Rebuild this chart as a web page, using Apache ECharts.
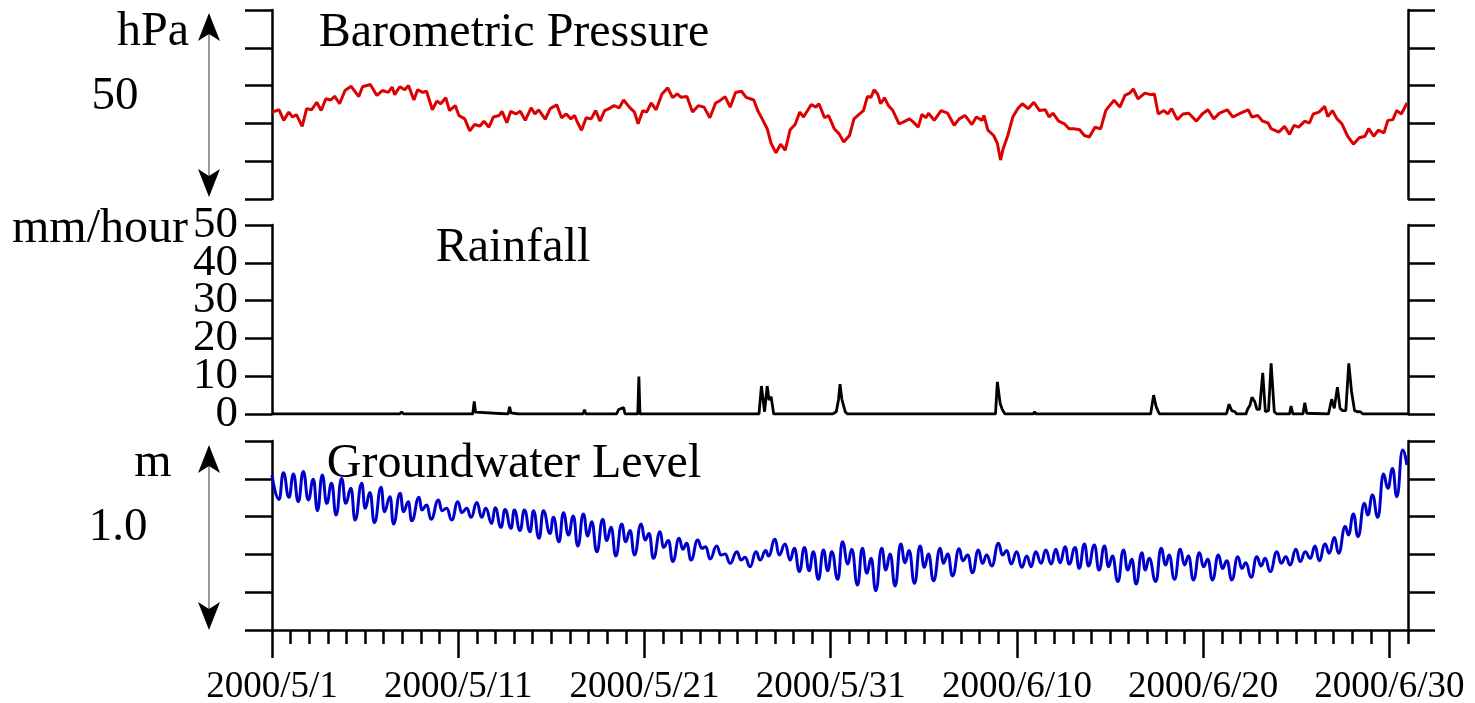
<!DOCTYPE html>
<html>
<head>
<meta charset="utf-8">
<title>Barometric Pressure / Rainfall / Groundwater Level</title>
<script src="https://cdn.jsdelivr.net/npm/echarts@6/dist/echarts.min.js"></script>
<style>
  html, body { margin: 0; padding: 0; background: #fff; }
  #main { width: 1475px; height: 703px; }
</style>
</head>
<body>
<div id="main"></div>
<script>
// x = days since 2000/5/1
var xTickDays = [0, 10, 20, 30, 40, 50, 60];
// rainfall tick labels, split in two sets so ECharts does not drop the crowded ones
var rainLabelsEven = [0, 20, 40];
var rainLabelsOdd = [10, 30, 50];
var dayTicks = [];
for (var i = 0; i <= 61; i++) dayTicks.push(i);

// barometric pressure, hPa  [day, value]
var pressure = [
  [0,1003.0],[0.38,1003.6],[0.63,1000.8],[0.90,1003.0],[1.10,1001.7],[1.31,1002.3],[1.62,999.2],[1.86,1003.9],
  [2.13,1003.6],[2.40,1005.6],[2.64,1003.4],[2.89,1006.5],[3.16,1006.2],[3.36,1007.2],[3.63,1005.2],[3.92,1008.7],
  [4.25,1009.8],[4.66,1007.1],[4.86,1009.7],[5.28,1010.3],[5.63,1007.4],[5.93,1008.7],[6.24,1008.2],[6.45,1009.6],
  [6.59,1007.6],[6.86,1009.7],[7.13,1008.9],[7.33,1010.0],[7.62,1006.2],[7.82,1008.9],[8.09,1008.2],[8.30,1008.5],
  [8.61,1003.6],[8.85,1005.9],[9.06,1005.2],[9.33,1006.8],[9.53,1003.4],[9.84,1004.7],[10.04,1002.1],[10.35,1001.2],
  [10.62,998.0],[10.87,999.7],[11.17,999.3],[11.38,1000.6],[11.65,999.0],[11.89,1001.7],[12.20,1002.1],[12.35,1003.2],
  [12.61,1000.2],[12.82,1003.2],[13.09,1002.5],[13.33,1003.2],[13.60,1000.8],[13.91,1004.1],[14.12,1002.5],[14.32,1003.6],
  [14.67,1001.1],[14.94,1003.9],[15.29,1004.9],[15.55,1001.5],[15.80,1002.5],[16.05,1001.2],[16.25,1002.1],[16.38,1000.5],
  [16.62,998.2],[16.87,1001.5],[17.14,1001.2],[17.38,1003.4],[17.61,1000.6],[17.86,1003.4],[18.10,1003.9],[18.37,1004.7],
  [18.64,1004.1],[18.88,1006.2],[19.19,1004.3],[19.46,1003.0],[19.66,999.9],[19.91,1003.4],[20.12,1003.0],[20.36,1005.4],
  [20.63,1003.6],[20.94,1007.8],[21.25,1009.4],[21.51,1006.8],[21.76,1007.8],[21.97,1006.9],[22.28,1007.1],[22.58,1003.0],
  [22.89,1004.7],[23.20,1004.3],[23.51,1001.5],[23.82,1005.4],[24.02,1005.9],[24.33,1007.1],[24.60,1004.3],[24.89,1008.2],
  [25.21,1008.5],[25.46,1006.9],[25.87,1006.2],[26.08,1003.4],[26.32,1001.2],[26.59,998.6],[26.80,994.7],[27.06,992.2],
  [27.31,994.5],[27.56,992.9],[27.82,998.3],[28.09,999.7],[28.34,1003.0],[28.54,1001.7],[28.96,1005.0],[29.20,1004.3],
  [29.37,1005.2],[29.67,1001.5],[29.88,1002.1],[30.19,998.6],[30.44,997.3],[30.70,995.1],[31.01,996.8],[31.25,1001.2],
  [31.55,1002.5],[31.76,1003.4],[31.97,1007.1],[32.17,1006.9],[32.33,1008.9],[32.52,1007.8],[32.68,1005.2],[32.89,1006.8],
  [33.10,1004.7],[33.34,1003.4],[33.67,999.9],[33.92,1000.4],[34.23,1001.2],[34.43,1000.4],[34.70,999.0],[34.90,1002.4],
  [35.11,1001.5],[35.25,1002.7],[35.56,1000.8],[35.93,1003.4],[36.28,1002.7],[36.63,999.5],[36.90,1001.2],[37.21,1002.1],
  [37.58,999.7],[37.82,1001.7],[38.13,1000.8],[38.23,1002.1],[38.44,998.2],[38.75,996.8],[38.95,994.7],[39.12,990.3],
  [39.26,993.3],[39.51,996.8],[39.78,1001.7],[40.04,1003.9],[40.29,1005.2],[40.60,1003.9],[40.91,1005.6],[41.21,1003.4],
  [41.52,1003.6],[41.73,1001.7],[41.93,1002.7],[42.24,1000.6],[42.55,999.9],[42.80,998.6],[43.06,998.6],[43.37,998.3],
  [43.62,996.8],[43.89,996.4],[44.19,999.0],[44.50,998.6],[44.77,1003.4],[44.91,1004.3],[45.22,1006.1],[45.53,1004.3],
  [45.80,1007.4],[46.05,1008.0],[46.25,1009.1],[46.50,1006.5],[46.87,1008.0],[47.18,1007.6],[47.38,1007.8],[47.59,1002.5],
  [47.89,1003.4],[48.10,1002.5],[48.31,1003.9],[48.61,1001.0],[48.92,1002.5],[49.23,1002.7],[49.64,1000.6],[49.95,1002.5],
  [50.26,1003.6],[50.57,1001.2],[50.88,1002.7],[51.29,1003.6],[51.60,1001.7],[52.01,1002.7],[52.42,1003.6],[52.62,1001.7],
  [52.93,1002.1],[53.20,1000.6],[53.49,1000.1],[53.65,998.6],[54.06,997.7],[54.37,999.2],[54.64,997.1],[54.88,999.5],
  [55.13,999.0],[55.46,1000.6],[55.71,1000.1],[55.91,1002.5],[56.22,1003.0],[56.53,1004.5],[56.69,1001.8],[56.94,1003.4],
  [57.19,1001.2],[57.45,999.9],[57.76,996.6],[58.07,994.5],[58.38,996.2],[58.69,996.6],[58.89,998.6],[59.16,996.6],
  [59.41,998.2],[59.71,997.5],[59.92,1000.8],[60.19,1001.0],[60.39,1003.4],[60.64,1002.5],[60.95,1005.4]
];

// rainfall, mm/hour  [day, value]
var rainfall = [
  [0,0],[6.85,0],[6.96,0.5],[7.08,0],
  [10.78,0],[10.86,3.3],[10.93,0.5],[11.0,0],
  [12.68,0],[12.76,1.9],[12.83,0.3],[12.9,0],
  [13.24,0],[13.29,0.5],[13.35,0],
  [16.04,0],[16.1,0.5],[16.16,0],
  [16.7,0],[16.78,1.1],[16.86,0],
  [18.5,0],[18.62,1.2],[18.72,1.7],[18.88,1.7],[18.96,0],
  [19.64,0],[19.70,9.9],[19.76,0],
  [26.15,0],[26.28,7.4],[26.45,0.6],[26.59,7.4],[26.69,3.7],[26.80,4.6],[26.94,0],
  [30.1,0],[30.3,0.6],[30.42,3.8],[30.5,7.9],[30.6,3.9],[30.78,0.6],[30.9,0],
  [38.85,0],[38.95,8.5],[39.1,2.8],[39.22,1.1],[39.36,0],
  [40.88,0],[40.95,0.6],[41.02,0],
  [41.63,0],[41.69,0.5],[41.75,0],
  [43.77,0],[43.83,0.5],[43.89,0],
  [47.18,0],[47.34,5.0],[47.48,1.9],[47.65,0],
  [51.25,0],[51.39,2.6],[51.53,0.9],[51.7,0.6],[51.8,0],
  [52.3,0],[52.38,1.2],[52.52,2.4],[52.62,4.4],[52.77,3.3],[52.89,1.2],[53.03,1.2],[53.2,10.9],[53.34,0.6],
  [53.51,0.9],[53.65,13.4],[53.82,0.6],[53.96,0],
  [54.64,0],[54.72,2.1],[54.82,0],
  [55.36,0],[55.46,3.0],[55.56,0.2],[55.64,0],
  [56.73,0],[56.9,3.9],[57.04,1.5],[57.21,7.1],[57.35,1.5],[57.49,0.9],[57.66,0.9],[57.82,13.4],[57.97,5.9],
  [58.13,0.9],[58.28,0.6],[58.44,0.6],[58.58,0],
  [61,0]
];

// groundwater level, m (relative)  [day, value]
var groundwater = [
  [0,0.820],[0.38,0.691],[0.61,0.832],[0.91,0.702],[1.15,0.825],[1.41,0.679],[1.68,0.838],[1.95,0.688],
  [2.22,0.797],[2.44,0.631],[2.70,0.820],[2.94,0.670],[3.20,0.776],[3.44,0.608],[3.74,0.802],[3.96,0.670],
  [4.24,0.750],[4.46,0.582],[4.82,0.776],[5.00,0.644],[5.26,0.727],[5.50,0.568],[5.86,0.755],[6.03,0.626],
  [6.34,0.705],[6.52,0.561],[6.88,0.723],[7.06,0.626],[7.32,0.679],[7.50,0.578],[7.90,0.702],[8.04,0.635],
  [8.31,0.661],[8.54,0.586],[8.94,0.688],[9.12,0.631],[9.38,0.644],[9.65,0.582],[9.98,0.679],[10.19,0.621],
  [10.46,0.644],[10.69,0.596],[11.00,0.674],[11.26,0.596],[11.48,0.644],[11.80,0.564],[11.98,0.647],[12.30,0.543],
  [12.51,0.638],[12.84,0.538],[13.01,0.635],[13.32,0.526],[13.55,0.635],[13.86,0.520],[14.04,0.631],[14.34,0.485],
  [14.57,0.631],[14.93,0.511],[15.11,0.596],[15.41,0.467],[15.65,0.621],[15.92,0.503],[16.18,0.603],[16.42,0.444],
  [16.72,0.614],[16.95,0.497],[17.17,0.573],[17.44,0.414],[17.76,0.586],[17.97,0.473],[18.21,0.543],[18.46,0.392],
  [18.78,0.561],[18.99,0.467],[19.23,0.526],[19.46,0.397],[19.82,0.561],[20.03,0.476],[20.25,0.511],[20.48,0.379],
  [20.84,0.520],[21.02,0.437],[21.29,0.473],[21.52,0.362],[21.86,0.485],[22.06,0.427],[22.27,0.459],[22.50,0.370],
  [22.86,0.476],[23.08,0.432],[23.29,0.441],[23.52,0.376],[23.88,0.444],[24.11,0.397],[24.33,0.402],[24.60,0.353],
  [24.96,0.414],[25.19,0.370],[25.40,0.385],[25.67,0.335],[25.99,0.414],[26.21,0.370],[26.51,0.420],[26.66,0.392],
  [27.01,0.480],[27.23,0.397],[27.55,0.455],[27.82,0.370],[28.05,0.432],[28.32,0.309],[28.59,0.437],[28.84,0.314],
  [29.07,0.414],[29.34,0.268],[29.61,0.423],[29.84,0.314],[30.06,0.414],[30.38,0.268],[30.63,0.467],[30.92,0.349],
  [31.13,0.427],[31.44,0.238],[31.70,0.432],[31.94,0.300],[32.17,0.379],[32.42,0.208],[32.74,0.432],[32.96,0.317],
  [33.19,0.402],[33.46,0.233],[33.76,0.455],[33.99,0.356],[34.21,0.420],[34.50,0.247],[34.80,0.444],[35.03,0.332],
  [35.25,0.402],[35.52,0.261],[35.88,0.432],[36.05,0.353],[36.29,0.402],[36.54,0.286],[36.90,0.430],[37.09,0.367],
  [37.36,0.397],[37.61,0.303],[37.93,0.423],[38.15,0.353],[38.38,0.397],[38.65,0.339],[39.01,0.459],[39.22,0.397],
  [39.46,0.420],[39.69,0.349],[39.99,0.414],[40.26,0.332],[40.53,0.392],[40.76,0.335],[41.01,0.414],[41.30,0.353],
  [41.55,0.423],[41.84,0.349],[42.09,0.427],[42.32,0.356],[42.59,0.441],[42.80,0.349],[43.13,0.437],[43.34,0.326],
  [43.63,0.455],[43.84,0.339],[44.16,0.450],[44.41,0.317],[44.70,0.444],[44.92,0.335],[45.13,0.392],[45.42,0.256],
  [45.72,0.423],[45.95,0.317],[46.17,0.374],[46.40,0.243],[46.71,0.409],[46.89,0.317],[47.10,0.379],[47.46,0.256],
  [47.74,0.432],[47.99,0.344],[48.17,0.397],[48.46,0.268],[48.77,0.427],[49.00,0.344],[49.21,0.392],[49.48,0.265],
  [49.80,0.409],[50.02,0.335],[50.25,0.374],[50.50,0.265],[50.82,0.397],[51.04,0.326],[51.27,0.367],[51.54,0.265],
  [51.86,0.388],[52.08,0.326],[52.29,0.356],[52.58,0.279],[52.88,0.388],[53.11,0.339],[53.33,0.379],[53.60,0.309],
  [53.96,0.414],[54.19,0.353],[54.44,0.388],[54.67,0.344],[54.98,0.427],[55.21,0.362],[55.48,0.414],[55.75,0.379],
  [56.01,0.444],[56.23,0.367],[56.55,0.455],[56.77,0.406],[57.05,0.490],[57.27,0.406],[57.63,0.547],[57.80,0.503],
  [58.07,0.614],[58.31,0.494],[58.66,0.670],[58.84,0.608],[59.09,0.714],[59.38,0.596],[59.68,0.825],[59.92,0.750],
  [60.17,0.855],[60.40,0.705],[60.71,0.952],[60.94,0.873]
];

var FONT = 'Liberation Serif';
var BLACK = '#000';

function dayLabel(v) {
  var d = new Date(2000, 4, 1 + Math.round(v));
  return d.getFullYear() + '/' + (d.getMonth() + 1) + '/' + d.getDate();
}

function labelStyle(values) {
  return {
    show: true, customValues: values, margin: 34, color: BLACK,
    fontFamily: FONT, fontSize: 45, hideOverlap: false
  };
}

function yAxisFor(grid, pos, min, max, step, labelValues) {
  return {
    type: 'value', gridIndex: grid, position: pos,
    min: min, max: max, interval: step,
    axisLine: { show: true, onZero: false, lineStyle: { color: BLACK, width: 2.5 } },
    axisTick: { show: true, inside: false, length: 27, lineStyle: { color: BLACK, width: 2.5 } },
    axisLabel: labelValues ? labelStyle(labelValues) : { show: false },
    splitLine: { show: false }
  };
}

function hiddenX(grid) {
  return { type: 'value', gridIndex: grid, min: 0, max: 61, show: false };
}

function txt(s, x, y, size, align) {
  return {
    type: 'text', x: x, y: y, silent: true,
    style: {
      text: s, fill: BLACK, font: size + 'px "' + FONT + '"',
      textAlign: align || 'center', textVerticalAlign: 'middle',
      align: align || 'center', verticalAlign: 'middle'
    }
  };
}

function arrow(x, y1, y2) {
  var h = 28, w = 11, notch = 7;
  return [
    { type: 'line', silent: true, shape: { x1: x, y1: y1 + 20, x2: x, y2: y2 - 20 },
      style: { stroke: '#777', lineWidth: 1.5 } },
    { type: 'polygon', silent: true,
      shape: { points: [[x, y1], [x - w, y1 + h], [x, y1 + h - notch], [x + w, y1 + h]] },
      style: { fill: BLACK } },
    { type: 'polygon', silent: true,
      shape: { points: [[x, y2], [x - w, y2 - h], [x, y2 - h + notch], [x + w, y2 - h]] },
      style: { fill: BLACK } }
  ];
}

var chart = echarts.init(document.getElementById('main'), null, { renderer: 'canvas' });

var option = {
  animation: false,
  backgroundColor: '#fff',
  textStyle: { fontFamily: FONT, color: BLACK },
  grid: [
    { left: 272, right: 67, top: 10, height: 189, show: false, outerBoundsMode: 'none' },
    { left: 272, right: 67, top: 225, height: 189, show: false, outerBoundsMode: 'none' },
    { left: 272, right: 67, top: 441, height: 189, show: false, outerBoundsMode: 'none' }
  ],
  xAxis: [
    hiddenX(0),
    hiddenX(1),
    {
      type: 'value', gridIndex: 2, position: 'bottom', min: 0, max: 61,
      axisLine: { show: true, onZero: false, lineStyle: { color: BLACK, width: 2.5 } },
      axisTick: { show: true, inside: false, length: 14, customValues: dayTicks,
        lineStyle: { color: BLACK, width: 2.5 } },
      axisLabel: { show: true, customValues: xTickDays, margin: 39, color: BLACK,
        fontFamily: FONT, fontSize: 37, formatter: dayLabel, hideOverlap: false },
      splitLine: { show: false }
    },
    {
      type: 'value', gridIndex: 2, position: 'bottom', min: 0, max: 61,
      axisLine: { show: false, onZero: false },
      axisTick: { show: true, inside: false, length: 28, customValues: xTickDays,
        lineStyle: { color: BLACK, width: 2.5 } },
      axisLabel: { show: false },
      splitLine: { show: false }
    }
  ],
  yAxis: [
    yAxisFor(0, 'left', 980, 1030, 10),
    yAxisFor(0, 'right', 980, 1030, 10),
    yAxisFor(1, 'left', 0, 50, 10, rainLabelsEven),
    yAxisFor(1, 'right', 0, 50, 10),
    yAxisFor(2, 'left', 0, 1, 0.2),
    yAxisFor(2, 'right', 0, 1, 0.2),
    {
      // second label layer for the rainfall axis
      type: 'value', gridIndex: 1, position: 'left', offset: 0,
      min: 0, max: 50, interval: 10,
      axisLine: { show: false, onZero: false },
      axisTick: { show: false },
      axisLabel: labelStyle(rainLabelsOdd),
      splitLine: { show: false }
    }
  ],
  series: [
    {
      name: 'Barometric Pressure', type: 'line', xAxisIndex: 0, yAxisIndex: 0,
      data: pressure, showSymbol: false, clip: true,
      lineStyle: { color: '#dd0000', width: 3 }
    },
    {
      name: 'Rainfall', type: 'line', xAxisIndex: 1, yAxisIndex: 2,
      data: rainfall, showSymbol: false, clip: true,
      lineStyle: { color: BLACK, width: 2.8 }
    },
    {
      name: 'Groundwater Level', type: 'line', xAxisIndex: 2, yAxisIndex: 4,
      data: groundwater, showSymbol: false, clip: true,
      smooth: 0.5, smoothMonotone: 'x',
      lineStyle: { color: '#0000cc', width: 3 }
    }
  ],
  graphic: [
    txt('Barometric Pressure', 514, 33, 48),
    txt('Rainfall', 513, 248, 48),
    txt('Groundwater Level', 514, 464, 48),
    txt('hPa', 153, 32, 48),
    txt('50', 115, 97, 47),
    txt('mm/hour', 12, 229, 48, 'left'),
    txt('m', 153, 463, 48),
    txt('1.0', 118, 528, 47)
  ].concat(arrow(209, 13, 197), arrow(209, 445, 630))
};

chart.setOption(option);
</script>
</body>
</html>
